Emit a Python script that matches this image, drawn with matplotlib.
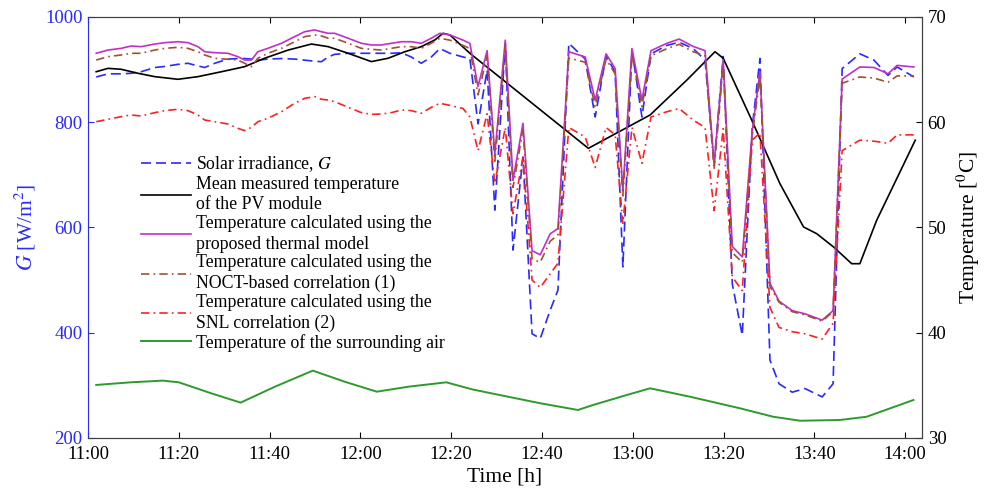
import matplotlib
matplotlib.use("Agg")
import matplotlib.pyplot as plt

plt.rcParams['font.family'] = ['Liberation Serif', 'DejaVu Serif']
plt.rcParams['mathtext.fontset'] = 'stix'

# time in minutes after 11:00
t_model = [1.8, 4.4, 7.3, 9.5, 11.7, 14.7, 16.9, 19.8, 22.0, 24.2, 25.7, 27.9, 30.8, 33.0,
           34.5, 36.0, 37.4, 39.6, 42.6, 45.5, 47.7, 49.9, 51.4, 52.9, 54.3, 57.3, 60.2,
           62.4, 64.6, 66.8, 69.0, 71.2, 73.4, 75.6, 77.5,
           79.7, 82.6, 84.1, 85.9, 87.9, 89.6, 91.9, 93.6, 95.8, 97.8, 99.6, 101.8, 103.5,
           105.9, 109.5, 111.7, 114.1, 116.1, 117.8, 119.8, 122.0, 124.0, 127.5, 130.2,
           133.3, 135.9, 137.9, 139.9, 141.9, 144.1, 146.3, 148.0, 150.2, 152.2, 155.1,
           157.9, 161.7, 164.1, 166.1, 170.0, 173.1, 176.2, 178.2, 181.9]

irradiance = [886, 892, 892, 893, 896, 904, 906, 910, 912, 907, 904, 912, 920, 921, 921,
              920, 918, 920, 921, 920, 918, 916, 915, 924, 929, 931, 931, 931, 931, 931,
              932, 924, 912, 924, 940,
              931, 924, 921, 797, 899, 633, 950, 557, 734, 398, 389, 443, 481, 950, 920,
              810, 926, 895, 525, 937, 810, 930, 946, 952, 940, 918, 721, 925, 493, 395,
              791, 921, 348, 303, 287, 294, 278, 303, 902, 930, 918, 889, 905, 886]

t_proposed = [66.55, 66.86, 67.02, 67.24, 67.18, 67.43, 67.56, 67.65, 67.56, 67.18, 66.70,
              66.61, 66.55, 66.23, 65.91, 65.91, 66.70, 67.02, 67.50, 68.13, 68.60, 68.77,
              68.60, 68.45, 68.45, 67.98, 67.50, 67.34, 67.34, 67.50, 67.65, 67.65, 67.50,
              67.98, 68.45,
              68.3, 67.8, 67.5, 63.4, 66.8, 57.0, 67.8, 54.5, 59.9, 47.8, 47.4, 49.4, 49.9,
              66.7, 66.2, 62.1, 66.5, 65.1, 53.5, 67.0, 62.1, 66.8, 67.5, 67.9, 67.2, 66.8,
              56.1, 65.9, 48.2, 47.2, 59.2, 64.8, 44.7, 43.0, 42.1, 41.8, 41.2, 42.1, 64.1,
              65.25, 65.2, 64.6, 65.4, 65.25]

t_noct = [65.91, 66.23, 66.39, 66.55, 66.55, 66.86, 67.02, 67.12, 67.02, 66.70, 66.39,
          66.08, 65.98, 65.91, 65.60, 65.28, 66.08, 66.55, 67.02, 67.65, 68.13, 68.29,
          68.20, 67.98, 67.98, 67.50, 67.02, 66.93, 66.86, 67.02, 67.18, 67.18, 67.02,
          67.50, 67.98,
          67.8, 67.3, 67.0, 62.6, 66.3, 56.3, 67.3, 53.8, 59.3, 47.0, 46.7, 48.7, 49.3,
          66.1, 65.7, 61.5, 66.0, 64.6, 53.0, 66.5, 61.5, 66.3, 67.0, 67.4, 66.7, 66.3,
          55.5, 65.4, 47.6, 46.7, 58.7, 64.3, 44.4, 42.9, 42.0, 41.7, 41.1, 42.0, 63.7,
          64.3, 64.2, 63.8, 64.4, 64.4]

t_snl = [60.05, 60.28, 60.53, 60.69, 60.59, 60.91, 61.10, 61.23, 61.10, 60.69, 60.21,
         60.05, 59.83, 59.42, 59.20, 59.52, 60.05, 60.37, 61.00, 61.80, 62.27, 62.43,
         62.18, 62.11, 61.95, 61.42, 60.91, 60.75, 60.78, 60.91, 61.16, 61.10, 60.85,
         61.42, 61.80,
         61.6, 61.3, 60.5, 57.3, 60.8, 54.2, 59.5, 51.3, 56.7, 45.0, 44.3, 45.6, 46.6,
         59.5, 58.6, 55.7, 59.5, 58.8, 50.4, 59.5, 56.1, 60.5, 61.0, 61.3, 60.2, 59.5,
         51.6, 59.4, 45.3, 44.0, 58.3, 59.0, 42.4, 40.5, 40.1, 39.9, 39.4, 40.9, 57.3,
         58.3, 58.2, 58.0, 58.8, 58.8]

t_meas_time = [1.8, 4.4, 7.3, 11.0, 14.7, 19.8, 24.2, 29.4, 34.5, 38.9, 44.1, 49.2, 52.9,
               57.3, 62.4, 66.1, 69.8, 73.4, 76.4, 78.2, 79.7, 84.1, 110.2, 123.8, 131.9,
               138.1, 139.9, 146.2, 152.4, 157.6, 160.5, 164.2, 168.2, 170.0, 173.7, 182.2]
t_measured = [64.80, 65.12, 65.03, 64.65, 64.33, 64.08, 64.33, 64.80, 65.28, 66.08, 66.86,
              67.43, 67.18, 66.55, 65.76, 66.08, 66.70, 67.18, 67.82, 68.45, 68.29, 66.55,
              57.52, 60.69, 64.01, 66.70, 66.08, 60.19, 54.16, 50.05, 49.41, 48.15, 46.56,
              46.56, 50.68, 58.29]

t_air_time = [1.8, 9.4, 16.5, 20.0, 27.1, 33.6, 41.2, 49.5, 56.5, 63.6, 70.7, 78.9, 84.8,
              99.6, 107.9, 111.2, 118.7, 123.8, 132.6, 143.6, 150.9, 156.8, 165.6, 171.5,
              181.8]
t_air = [35.04, 35.29, 35.45, 35.29, 34.25, 33.36, 34.88, 36.40, 35.35, 34.40, 34.88,
         35.29, 34.60, 33.30, 32.66, 33.13, 34.09, 34.72, 33.92, 32.82, 32.02, 31.64,
         31.71, 32.02, 33.61]

xtick_pos = [0, 20, 40, 60, 80, 100, 120, 140, 160, 180]
xtick_labels = ["11:00", "11:20", "11:40", "12:00", "12:20", "12:40",
                "13:00", "13:20", "13:40", "14:00"]

fig = plt.figure(figsize=(9.87, 4.98), dpi=100)
ax = fig.add_axes([0.0892, 0.1205, 0.845, 0.8454])
ax2 = ax.twinx()

blue = '#2a2aff'
l1, = ax.plot(t_model, irradiance, color=blue, lw=1.2, dashes=(6, 3),
              label='Solar irradiance, $G$')
l2, = ax2.plot(t_meas_time, t_measured, color='black', lw=1.2,
               label='Mean measured temperature\nof the PV module')
l3, = ax2.plot(t_model, t_proposed, color='#c030c8', lw=1.2,
               label='Temperature calculated using the\nproposed thermal model')
l4, = ax2.plot(t_model, t_noct, color='#a0522d', lw=1.2, dashes=(5, 2.5, 1, 2.5),
               label='Temperature calculated using the\nNOCT-based correlation (1)')
l5, = ax2.plot(t_model, t_snl, color='#ff2020', lw=1.2, dashes=(5, 2.5, 1, 2.5),
               label='Temperature calculated using the\nSNL correlation (2)')
l6, = ax2.plot(t_air_time, t_air, color='#2e9a2e', lw=1.4,
               label='Temperature of the surrounding air')

ax.set_xlim(0, 183.7)
ax.set_ylim(200, 1000)
ax2.set_ylim(30, 70)
ax.set_xticks(xtick_pos)
ax.set_xticklabels(xtick_labels)
ax.set_yticks([200, 400, 600, 800, 1000])
ax2.set_yticks([30, 40, 50, 60, 70])

ax.tick_params(axis='x', direction='in', top=True, length=4, labelsize=13.5, pad=6)
ax.tick_params(axis='y', direction='in', length=4, labelsize=13.5, colors=blue, pad=4)
ax2.tick_params(axis='y', direction='in', length=4, labelsize=13.5, pad=4)

for s in ['top', 'bottom', 'right']:
    ax.spines[s].set_color('#404040')
    ax2.spines[s].set_color('#404040')
ax.spines['left'].set_color(blue)
ax2.spines['left'].set_visible(False)

ax.set_xlabel('Time [h]', fontsize=15.5, labelpad=3)
ax.set_ylabel('$G$ [W/m$^2$]', fontsize=15.5, color=blue, labelpad=5)
ax2.set_ylabel('Temperature [$^0$C]', fontsize=15.5, labelpad=6)

leg = ax2.legend(handles=[l1, l2, l3, l4, l5, l6], loc='upper left',
                 bbox_to_anchor=(0.0636, 0.674), frameon=False, fontsize=12.8,
                 handlelength=2.8, handletextpad=0.3, labelspacing=0.1, borderpad=0,
                 borderaxespad=0)
for txt in leg.get_texts():
    txt.set_linespacing(1.27)

plt.savefig('out.png', dpi=100)
